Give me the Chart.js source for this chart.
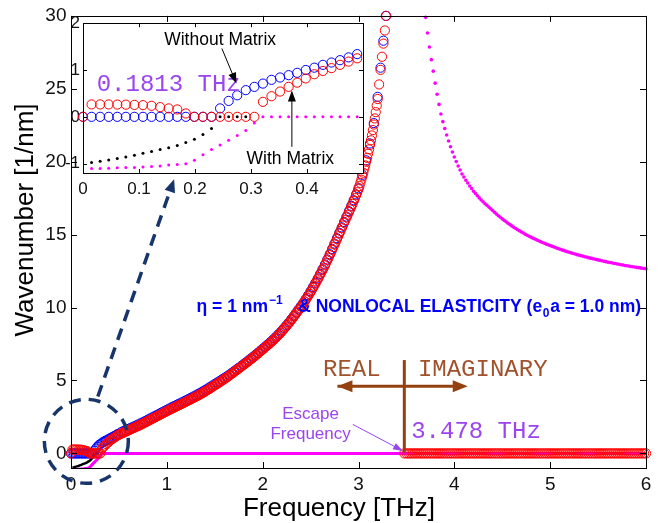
<!DOCTYPE html>
<html>
<head>
<meta charset="utf-8">
<script src="https://cdn.jsdelivr.net/npm/chart.js@4.4.1/dist/chart.umd.min.js"></script>
<style>
  html, body { margin: 0; padding: 0; background: #fff; }
  #wrap { position: relative; width: 658px; height: 523px; }
  #mainChart { position: absolute; left: 0; top: 0; }
  #insetChart { position: absolute; left: 50px; top: 10px; }
</style>
</head>
<body>
<div id="wrap">
  <canvas id="mainChart" width="658" height="523"></canvas>
  <canvas id="insetChart" width="320" height="190"></canvas>
</div>
<script>
// =====================
// Tick values
// =====================
const mainFreqTicks = [0, 1, 2, 3, 4, 5, 6];
const mainWaveTicks = [0, 5, 10, 15, 20, 25, 30];
const insetFreqTicks = [0, 0.1, 0.2, 0.3, 0.4];
const insetWaveTicks = [-1, 0, 1, 2];

// =====================
// Low frequency samples (seen in the inset)
// =====================
const lowFreq = [0, 0.0153, 0.0306, 0.0459, 0.0612, 0.0765, 0.0918, 0.1071, 0.1224, 0.1377, 0.153,
  0.1683, 0.1836, 0.1989, 0.2142, 0.2295, 0.2448, 0.2601, 0.2754, 0.2907, 0.306, 0.3213, 0.3366,
  0.3519, 0.3672, 0.3825, 0.3978, 0.4131, 0.4284, 0.4437, 0.459, 0.4743, 0.4896];
const withMatrixLow = [0, 0.265, 0.265, 0.265, 0.262, 0.26, 0.255, 0.25, 0.236, 0.207, 0.18,
  0.158, 0.072, 0, 0, 0, 0, 0, 0, 0, 0, 0.32, 0.44,
  0.54, 0.64, 0.73, 0.82, 0.91, 0.98, 1.04, 1.11, 1.18, 1.25];
const withoutMatrixLow = [0, 0, 0, 0, 0, 0, 0, 0, 0, 0, 0,
  0, 0, 0, 0, 0, 0.18, 0.34, 0.46, 0.57, 0.64, 0.71, 0.79,
  0.84, 0.89, 0.94, 1.0, 1.05, 1.11, 1.16, 1.21, 1.27, 1.34];

const blackFreq = [0.0153, 0.0306, 0.0459, 0.0612, 0.0765, 0.0918, 0.1071, 0.1224, 0.1377, 0.153,
  0.1683, 0.1836, 0.1989, 0.2142, 0.2295, 0.2448, 0.2601, 0.2754, 0.2907];
const blackWave = [-0.976, -0.95, -0.92, -0.89, -0.86, -0.82, -0.78, -0.74, -0.70, -0.66,
  -0.61, -0.55, -0.48, -0.38, -0.25, 0, 0, 0, 0];

const magentaFreq = [0.0153, 0.0306, 0.0459, 0.0612, 0.0765, 0.0918, 0.1071, 0.1224, 0.1377, 0.153,
  0.1683, 0.1836, 0.1989, 0.2142, 0.2295, 0.2448, 0.2601, 0.2754, 0.2907, 0.306, 0.3213, 0.3366,
  0.3519, 0.3672, 0.3825, 0.3978, 0.4131, 0.4284, 0.4437, 0.459, 0.4743, 0.4896, 3.478, 6.0];
const magentaWave = [-1.105, -1.105, -1.10, -1.09, -1.08, -1.08, -1.07, -1.06, -1.05, -1.03,
  -1.02, -1.0, -0.93, -0.81, -0.70, -0.60, -0.50, -0.40, -0.29, -0.13, 0, 0,
  0, 0, 0, 0, 0, 0, 0, 0, 0, 0, 0, 0];

// =====================
// Main branch (real part), with matrix
// =====================
const withMatrixFreq = [
  0.5, 0.5125, 0.525, 0.5375, 0.55, 0.5625, 0.575, 0.5875, 0.6, 0.6125, 0.625, 0.6375, 0.65, 0.6625, 0.675, 0.6875, 0.7, 0.7125, 0.725, 0.7375,
  0.75, 0.7625, 0.775, 0.7875, 0.8, 0.8125, 0.825, 0.8375, 0.85, 0.8625, 0.875, 0.8875, 0.9, 0.9125, 0.925, 0.9375, 0.95, 0.9625, 0.975, 0.9875,
  1.0, 1.0125, 1.025, 1.0375, 1.05, 1.0625, 1.075, 1.0875, 1.1, 1.1125, 1.125, 1.1375, 1.15, 1.1625, 1.175, 1.1875, 1.2, 1.2125, 1.225, 1.2375,
  1.25, 1.2625, 1.275, 1.2875, 1.3, 1.3125, 1.325, 1.3375, 1.35, 1.3625, 1.375, 1.3875, 1.4, 1.4125, 1.425, 1.4375, 1.45, 1.4625, 1.475, 1.4875,
  1.5, 1.5125, 1.525, 1.5375, 1.55, 1.5625, 1.575, 1.5875, 1.6, 1.6125, 1.625, 1.6375, 1.65, 1.6625, 1.675, 1.6875, 1.7, 1.7125, 1.725, 1.7375,
  1.75, 1.7625, 1.775, 1.7875, 1.8, 1.8125, 1.825, 1.8375, 1.85, 1.8625, 1.875, 1.8875, 1.9, 1.9125, 1.925, 1.9375, 1.95, 1.9625, 1.975, 1.9875,
  2.0, 2.0125, 2.025, 2.0375, 2.05, 2.0625, 2.075, 2.0875, 2.1, 2.1125, 2.125, 2.1375, 2.15, 2.1625, 2.175, 2.1875, 2.2, 2.2125, 2.225, 2.2375,
  2.25, 2.2625, 2.275, 2.2875, 2.3, 2.3125, 2.325, 2.3375, 2.35, 2.3625, 2.375, 2.3875, 2.4, 2.4125, 2.425, 2.4375, 2.45, 2.4625, 2.475, 2.4875,
  2.5, 2.5125, 2.525, 2.5375, 2.55, 2.5625, 2.575, 2.5875, 2.6, 2.6125, 2.625, 2.6375, 2.65, 2.6625, 2.675, 2.6875, 2.7, 2.7125, 2.725, 2.7375,
  2.75, 2.7625, 2.775, 2.7875, 2.8, 2.8125, 2.825, 2.8375, 2.85, 2.8625, 2.875, 2.8875, 2.9, 2.9125, 2.925, 2.9375, 2.95, 2.9625, 2.975, 2.9875,
  3.0, 3.01, 3.02, 3.03, 3.04, 3.05, 3.06, 3.07, 3.08, 3.09, 3.1, 3.11, 3.12, 3.13, 3.14, 3.15, 3.16, 3.17, 3.18, 3.19, 3.2,
  3.215, 3.23, 3.245, 3.26, 3.275, 3.29];
const withMatrixWave = [
  1.28, 1.32, 1.36, 1.395, 1.43, 1.47, 1.51, 1.545, 1.58, 1.62, 1.66, 1.695, 1.73, 1.77, 1.81, 1.845, 1.88, 1.92, 1.96, 2.0,
  2.04, 2.085, 2.13, 2.17, 2.21, 2.255, 2.30, 2.34, 2.38, 2.425, 2.47, 2.51, 2.55, 2.595, 2.64, 2.68, 2.72, 2.765, 2.81, 2.855,
  2.90, 2.94, 2.98, 3.02, 3.06, 3.10, 3.14, 3.18, 3.22, 3.26, 3.30, 3.34, 3.38, 3.42, 3.46, 3.505, 3.55, 3.59, 3.63, 3.67,
  3.71, 3.755, 3.80, 3.84, 3.88, 3.925, 3.97, 4.015, 4.06, 4.105, 4.15, 4.20, 4.25, 4.30, 4.35, 4.40, 4.45, 4.505, 4.56, 4.615,
  4.67, 4.72, 4.77, 4.825, 4.88, 4.935, 4.99, 5.045, 5.10, 5.155, 5.21, 5.27, 5.33, 5.39, 5.45, 5.51, 5.57, 5.635, 5.70, 5.76,
  5.82, 5.88, 5.94, 6.005, 6.07, 6.13, 6.19, 6.255, 6.32, 6.385, 6.45, 6.515, 6.58, 6.645, 6.71, 6.78, 6.85, 6.92, 6.99, 7.06,
  7.13, 7.20, 7.27, 7.34, 7.41, 7.48, 7.55, 7.625, 7.70, 7.78, 7.86, 7.94, 8.02, 8.105, 8.19, 8.28, 8.37, 8.465, 8.56, 8.655,
  8.75, 8.85, 8.95, 9.055, 9.16, 9.27, 9.38, 9.49, 9.60, 9.715, 9.83, 9.945, 10.06, 10.175, 10.29, 10.415, 10.54, 10.67, 10.80, 10.935,
  11.07, 11.21, 11.35, 11.495, 11.64, 11.79, 11.94, 12.095, 12.25, 12.41, 12.57, 12.735, 12.90, 13.07, 13.24, 13.42, 13.60, 13.78, 13.96, 14.145,
  14.33, 14.515, 14.70, 14.885, 15.07, 15.255, 15.44, 15.625, 15.81, 15.995, 16.18, 16.365, 16.55, 16.735, 16.92, 17.11, 17.30, 17.50, 17.70, 17.91,
  18.12, 18.33, 18.55, 18.77, 19.0, 19.25, 19.5, 19.75, 20.0, 20.27, 20.55, 20.85, 21.15, 21.47, 21.8, 22.17, 22.55, 22.97, 23.4, 23.85, 24.3,
  25.3, 26.3, 27.2, 28.1, 29.0, 30.0];

// =====================
// Main branch (real part), without matrix
// =====================
const withoutMatrixFreq = [
  0.525, 0.55, 0.575, 0.6, 0.625, 0.65, 0.675, 0.7, 0.725, 0.75, 0.775, 0.8, 0.825, 0.85, 0.875, 0.9, 0.925, 0.95, 0.975, 1.0,
  1.025, 1.05, 1.075, 1.1, 1.125, 1.15, 1.175, 1.2, 1.225, 1.25, 1.275, 1.3, 1.325, 1.35, 1.375, 1.4, 1.425, 1.45, 1.475, 1.5,
  1.525, 1.55, 1.575, 1.6, 1.625, 1.65, 1.675, 1.7, 1.725, 1.75, 1.775, 1.8, 1.825, 1.85, 1.875, 1.9, 1.925, 1.95, 1.975, 2.0,
  2.025, 2.05, 2.075, 2.1, 2.125, 2.15, 2.175, 2.2, 2.225, 2.25, 2.275, 2.3, 2.325, 2.35, 2.375, 2.4, 2.425, 2.45, 2.475, 2.5,
  2.525, 2.55, 2.575, 2.6, 2.625, 2.65, 2.675, 2.7, 2.725, 2.75, 2.775, 2.8, 2.825, 2.85, 2.875, 2.9, 2.925, 2.95, 2.975, 3.0,
  3.04, 3.08, 3.12, 3.16, 3.2, 3.23, 3.26, 3.285];
const withoutMatrixWave = [
  1.47, 1.54, 1.61, 1.68, 1.755, 1.83, 1.905, 1.98, 2.06, 2.14, 2.225, 2.31, 2.395, 2.48, 2.565, 2.65, 2.735, 2.82, 2.905, 2.99,
  3.075, 3.16, 3.24, 3.32, 3.40, 3.48, 3.56, 3.64, 3.725, 3.81, 3.895, 3.98, 4.07, 4.16, 4.255, 4.35, 4.45, 4.55, 4.655, 4.76,
  4.86, 4.96, 5.07, 5.17, 5.28, 5.39, 5.51, 5.63, 5.75, 5.87, 5.99, 6.12, 6.24, 6.37, 6.50, 6.63, 6.76, 6.90, 7.04, 7.18,
  7.32, 7.46, 7.60, 7.75, 7.91, 8.07, 8.24, 8.42, 8.61, 8.80, 9.00, 9.21, 9.43, 9.65, 9.88, 10.11, 10.34, 10.59, 10.85, 11.12,
  11.41, 11.70, 12.00, 12.31, 12.63, 12.96, 13.30, 13.66, 14.02, 14.39, 14.76, 15.13, 15.50, 15.87, 16.24, 16.61, 16.98, 17.36, 17.76, 18.18,
  19.1, 20.1, 21.25, 22.65, 24.45, 26.45, 28.3, 30.0];

// =====================
// Above escape frequency (real part is zero)
// =====================
const imagFreq = [3.478,
  3.50, 3.52, 3.54, 3.56, 3.58, 3.60, 3.62, 3.64, 3.66, 3.68,
  3.70, 3.72, 3.74, 3.76, 3.78, 3.80, 3.82, 3.84, 3.86, 3.88,
  3.90, 3.92, 3.94, 3.96, 3.98, 4.00, 4.02, 4.04, 4.06, 4.08,
  4.10, 4.12, 4.14, 4.16, 4.18, 4.20, 4.22, 4.24, 4.26, 4.28,
  4.30, 4.32, 4.34, 4.36, 4.38, 4.40, 4.42, 4.44, 4.46, 4.48,
  4.50, 4.52, 4.54, 4.56, 4.58, 4.60, 4.62, 4.64, 4.66, 4.68,
  4.70, 4.72, 4.74, 4.76, 4.78, 4.80, 4.82, 4.84, 4.86, 4.88,
  4.90, 4.92, 4.94, 4.96, 4.98, 5.00, 5.02, 5.04, 5.06, 5.08,
  5.10, 5.12, 5.14, 5.16, 5.18, 5.20, 5.22, 5.24, 5.26, 5.28,
  5.30, 5.32, 5.34, 5.36, 5.38, 5.40, 5.42, 5.44, 5.46, 5.48,
  5.50, 5.52, 5.54, 5.56, 5.58, 5.60, 5.62, 5.64, 5.66, 5.68,
  5.70, 5.72, 5.74, 5.76, 5.78, 5.80, 5.82, 5.84, 5.86, 5.88,
  5.90, 5.92, 5.94, 5.96, 5.98, 6.00];
const imagWave = [0,
  0, 0, 0, 0, 0, 0, 0, 0, 0, 0,
  0, 0, 0, 0, 0, 0, 0, 0, 0, 0,
  0, 0, 0, 0, 0, 0, 0, 0, 0, 0,
  0, 0, 0, 0, 0, 0, 0, 0, 0, 0,
  0, 0, 0, 0, 0, 0, 0, 0, 0, 0,
  0, 0, 0, 0, 0, 0, 0, 0, 0, 0,
  0, 0, 0, 0, 0, 0, 0, 0, 0, 0,
  0, 0, 0, 0, 0, 0, 0, 0, 0, 0,
  0, 0, 0, 0, 0, 0, 0, 0, 0, 0,
  0, 0, 0, 0, 0, 0, 0, 0, 0, 0,
  0, 0, 0, 0, 0, 0, 0, 0, 0, 0,
  0, 0, 0, 0, 0, 0, 0, 0, 0, 0,
  0, 0, 0, 0, 0, 0];

// magenta branch coming down from the top
const branchFreq = [3.70, 3.72, 3.74, 3.76, 3.78, 3.80, 3.82, 3.84, 3.86, 3.88,
  3.90, 3.92, 3.94, 3.96, 3.98, 4.00, 4.02, 4.04, 4.06, 4.08,
  4.10, 4.12, 4.14, 4.16, 4.18, 4.20, 4.22, 4.24, 4.26, 4.28,
  4.30, 4.32, 4.34, 4.36, 4.38, 4.40, 4.42, 4.44, 4.46, 4.48,
  4.50, 4.52, 4.54, 4.56, 4.58, 4.60, 4.62, 4.64, 4.66, 4.68,
  4.70, 4.72, 4.74, 4.76, 4.78, 4.80, 4.82, 4.84, 4.86, 4.88,
  4.90, 4.92, 4.94, 4.96, 4.98, 5.00, 5.02, 5.04, 5.06, 5.08,
  5.10, 5.12, 5.14, 5.16, 5.18, 5.20, 5.22, 5.24, 5.26, 5.28,
  5.30, 5.32, 5.34, 5.36, 5.38, 5.40, 5.42, 5.44, 5.46, 5.48,
  5.50, 5.52, 5.54, 5.56, 5.58, 5.60, 5.62, 5.64, 5.66, 5.68,
  5.70, 5.72, 5.74, 5.76, 5.78, 5.80, 5.82, 5.84, 5.86, 5.88,
  5.90, 5.92, 5.94, 5.96, 5.98, 6.00];
const branchWave = [29.90, 28.83, 27.87, 27.00, 26.21, 25.39, 24.63, 23.93, 23.27, 22.75,
  22.28, 21.83, 21.42, 21.03, 20.67, 20.33, 20.01, 19.71, 19.43, 19.16,
  18.95, 18.73, 18.54, 18.34, 18.16, 17.98, 17.83, 17.67, 17.52, 17.38,
  17.25, 17.12, 17.01, 16.89, 16.77, 16.66, 16.53, 16.41, 16.30, 16.19,
  16.08, 15.98, 15.88, 15.78, 15.69, 15.60, 15.51, 15.42, 15.34, 15.26,
  15.18, 15.11, 15.03, 14.96, 14.89, 14.83, 14.76, 14.70, 14.64, 14.58,
  14.52, 14.46, 14.41, 14.35, 14.30, 14.25, 14.20, 14.15, 14.10, 14.05,
  14.01, 13.96, 13.92, 13.87, 13.83, 13.79, 13.75, 13.71, 13.67, 13.63,
  13.60, 13.56, 13.53, 13.49, 13.46, 13.42, 13.39, 13.36, 13.33, 13.30,
  13.27, 13.24, 13.21, 13.18, 13.15, 13.12, 13.09, 13.07, 13.04, 13.02,
  12.99, 12.97, 12.94, 12.92, 12.89, 12.87, 12.85, 12.82, 12.80, 12.78,
  12.76, 12.74, 12.72, 12.70, 12.68, 12.66];

// =====================
// Helpers
// =====================
const SANS = '"Liberation Sans", Arial, sans-serif';
const MONO = '"Liberation Mono", "Courier New", monospace';
const RED = '#ff0000', BLUE = '#0000ff', MAGENTA = '#ff00ff';
const NAVY = '#17356b', BROWN = '#a0522d', BROWN_DARK = '#95400f', PURPLE = '#9a45ee';

Chart.defaults.font.family = SANS;

function pts(xs, ys) {
  return xs.map((x, i) => ({ x, y: ys[i] }));
}

function rings(data, color, order) {
  return { data, showLine: false, pointStyle: 'circle', pointRadius: 4.6, pointBorderWidth: 1,
    pointBorderColor: color, pointBackgroundColor: 'rgba(0,0,0,0)', borderColor: color,
    backgroundColor: 'rgba(0,0,0,0)', clip: 8, order };
}

function dots(data, color, r, order) {
  return { data, showLine: false, pointRadius: r, pointBorderWidth: 0, pointBorderColor: color,
    pointBackgroundColor: color, backgroundColor: color, clip: 3, order };
}

function line(data, color, w, order) {
  return { data, showLine: true, pointRadius: 0, borderColor: color, borderWidth: w, clip: 0, order };
}

function drawFrame(ctx, a, xs, ys, len) {
  ctx.save();
  ctx.strokeStyle = '#000';
  ctx.lineWidth = 1;
  ctx.strokeRect(Math.round(a.left) + 0.5, Math.round(a.top) + 0.5,
    Math.round(a.right - a.left), Math.round(a.bottom - a.top));
  ctx.beginPath();
  xs.ticks.forEach(t => {
    const px = Math.round(xs.getPixelForValue(t.value)) + 0.5;
    ctx.moveTo(px, a.bottom); ctx.lineTo(px, a.bottom - len);
    ctx.moveTo(px, a.top); ctx.lineTo(px, a.top + len);
  });
  ys.ticks.forEach(t => {
    const py = Math.round(ys.getPixelForValue(t.value)) + 0.5;
    ctx.moveTo(a.left, py); ctx.lineTo(a.left + len, py);
    ctx.moveTo(a.right, py); ctx.lineTo(a.right - len, py);
  });
  ctx.stroke();
  ctx.restore();
}

function arrowHead(ctx, x0, y0, x1, y1, len, wid, color) {
  const ang = Math.atan2(y1 - y0, x1 - x0);
  ctx.save();
  ctx.fillStyle = color;
  ctx.translate(x1, y1);
  ctx.rotate(ang);
  ctx.beginPath();
  ctx.moveTo(0, 0);
  ctx.lineTo(-len, wid / 2);
  ctx.lineTo(-len, -wid / 2);
  ctx.closePath();
  ctx.fill();
  ctx.restore();
}

function arrow(ctx, x0, y0, x1, y1, o) {
  const ang = Math.atan2(y1 - y0, x1 - x0);
  const ex = x1 - Math.cos(ang) * o.len * 0.8, ey = y1 - Math.sin(ang) * o.len * 0.8;
  ctx.save();
  ctx.strokeStyle = o.color;
  ctx.lineWidth = o.width;
  if (o.dash) ctx.setLineDash(o.dash);
  ctx.beginPath();
  ctx.moveTo(x0, y0);
  ctx.lineTo(ex, ey);
  ctx.stroke();
  ctx.restore();
  arrowHead(ctx, x0, y0, x1, y1, o.len, o.wid, o.color);
  if (o.both) arrowHead(ctx, x1, y1, x0, y0, o.len, o.wid, o.color);
}

function text(ctx, str, x, y, font, color, align) {
  ctx.save();
  ctx.font = font;
  ctx.fillStyle = color;
  ctx.textAlign = align || 'left';
  ctx.textBaseline = 'alphabetic';
  ctx.fillText(str, x, y);
  ctx.restore();
}

// =====================
// Main chart decorations
// =====================
const mainDecor = {
  id: 'mainDecor',
  afterDraw(chart) {
    const { ctx, chartArea: a, scales: { x, y } } = chart;
    const X = v => x.getPixelForValue(v), Y = v => y.getPixelForValue(v);
    drawFrame(ctx, a, x, y, 6);

    // axis titles
    text(ctx, 'Frequency [THz]', 339, 516, '26px ' + SANS, '#000', 'center');
    ctx.save();
    ctx.translate(33, 220);
    ctx.rotate(-Math.PI / 2);
    text(ctx, 'Wavenumber [1/nm]', 0, 0, '26px ' + SANS, '#000', 'center');
    ctx.restore();

    // dashed zoom circle + arrow to the inset
    ctx.save();
    ctx.strokeStyle = NAVY;
    ctx.lineWidth = 3.5;
    ctx.setLineDash([12, 8]);
    ctx.beginPath();
    ctx.arc(X(0.16), Y(0.83), 42, 0, Math.PI * 2);
    ctx.stroke();
    ctx.restore();
    arrow(ctx, X(0.28), Y(3.9), X(1.076), Y(18.8), { color: NAVY, width: 3.5, dash: [12, 8], len: 13, wid: 11 });

    // parameter text
    const blueBold = 'bold 17.5px ' + SANS;
    let bx = X(1.31);
    const by = Y(9.7);
    text(ctx, 'η = 1 nm', bx, by, blueBold, BLUE);
    ctx.font = blueBold;
    bx += ctx.measureText('η = 1 nm').width + 1;
    text(ctx, '−1', bx, by - 8, 'bold 12px ' + SANS, BLUE);
    let cx = X(2.37);
    text(ctx, '& NONLOCAL ELASTICITY (e', cx, by, blueBold, BLUE);
    ctx.font = blueBold;
    cx += ctx.measureText('& NONLOCAL ELASTICITY (e').width;
    text(ctx, '0', cx + 0.5, by + 5, 'bold 12px ' + SANS, BLUE);
    text(ctx, 'a = 1.0 nm)', cx + 8, by, blueBold, BLUE);

    // real / imaginary marker
    ctx.save();
    ctx.strokeStyle = BROWN_DARK;
    ctx.lineWidth = 3;
    ctx.beginPath();
    ctx.moveTo(X(3.478), Y(6.4));
    ctx.lineTo(X(3.478), Y(0.05));
    ctx.stroke();
    ctx.restore();
    arrow(ctx, X(2.78), Y(4.6), X(4.14), Y(4.6), { color: BROWN_DARK, width: 3, len: 15, wid: 12, both: true });
    text(ctx, 'REAL', X(2.63), Y(5.3), '24px ' + MONO, BROWN);
    text(ctx, 'IMAGINARY', X(3.62), Y(5.3), '24px ' + MONO, BROWN);
    text(ctx, '3.478 THz', X(3.55), Y(1.08), '24px ' + MONO, PURPLE);

    // escape frequency
    text(ctx, 'Escape', X(2.5), Y(2.33), '17px ' + SANS, PURPLE, 'center');
    text(ctx, 'Frequency', X(2.5), Y(0.97), '17px ' + SANS, PURPLE, 'center');
    arrow(ctx, X(2.94), Y(1.99), X(3.465), Y(0.17), { color: PURPLE, width: 1, len: 10, wid: 7 });
  }
};

// =====================
// Inset decorations
// =====================
const insetDecor = {
  id: 'insetDecor',
  beforeDraw(chart) {
    const { ctx, chartArea: a } = chart;
    ctx.save();
    ctx.fillStyle = '#fff';
    ctx.fillRect(a.left, a.top, a.right - a.left, a.bottom - a.top);
    ctx.restore();
  },
  afterDraw(chart) {
    const { ctx, chartArea: a, scales: { x, y } } = chart;
    const X = v => x.getPixelForValue(v), Y = v => y.getPixelForValue(v);
    drawFrame(ctx, a, x, y, 4);
    text(ctx, '0.1813 THz', X(0.0245), Y(0.56), '24px ' + MONO, PURPLE);
    text(ctx, 'Without Matrix', X(0.145), Y(1.54), '17.5px ' + SANS, '#000');
    arrow(ctx, X(0.248), Y(1.46), X(0.274), Y(0.71), { color: '#000', width: 1, len: 11, wid: 8 });
    text(ctx, 'With Matrix', X(0.292), Y(-1.01), '17.5px ' + SANS, '#000');
    arrow(ctx, X(0.373), Y(-0.64), X(0.373), Y(0.56), { color: '#000', width: 1, len: 11, wid: 8 });
  }
};

// =====================
// Datasets
// =====================
const redAll = pts(lowFreq.concat(withMatrixFreq), withMatrixLow.concat(withMatrixWave));
const blueAll = pts(lowFreq.concat(withoutMatrixFreq), withoutMatrixLow.concat(withoutMatrixWave));
const redImag = pts(imagFreq, imagWave);
const blackPts = pts(blackFreq, blackWave);
const magentaPts = pts(magentaFreq, magentaWave);
const branchPts = pts(branchFreq, branchWave);

function axis(min, max, ticks, size, pad, font, isY) {
  return {
    type: 'linear', min, max,
    grid: { display: false, drawTicks: false },
    border: { display: false },
    afterBuildTicks: s => { s.ticks = ticks.map(v => ({ value: v })); },
    afterFit: s => { if (isY) s.width = size; else s.height = size; },
    ticks: { color: '#111', font: { size: font }, padding: pad, autoSkip: false, maxRotation: 0,
      callback: v => String(v) }
  };
}

const baseOptions = {
  responsive: false,
  animation: false,
  events: [],
  plugins: { legend: { display: false }, tooltip: { enabled: false } }
};

new Chart(document.getElementById('mainChart'), {
  type: 'scatter',
  data: {
    datasets: [
      rings(redAll, RED, 1),
      rings(redImag, RED, 1),
      rings(blueAll, BLUE, 2),
      line(magentaPts, MAGENTA, 3, 3),
      line(blackPts, '#000', 2.5, 4),
      dots(branchPts, MAGENTA, 1.8, 3)
    ]
  },
  options: Object.assign({}, baseOptions, {
    layout: { padding: { top: 13, right: 12, left: 0, bottom: 0 } },
    scales: {
      x: axis(0, 6, mainFreqTicks, 55, 5, 19, false),
      y: axis(-1, 30, mainWaveTicks, 71, 4.5, 19, true)
    }
  }),
  plugins: [mainDecor]
});

const inInset = p => p.x < 0.5;

new Chart(document.getElementById('insetChart'), {
  type: 'scatter',
  data: {
    datasets: [
      dots(blackPts.filter(inInset), '#000', 1.5, 0),
      dots(magentaPts.filter(inInset), MAGENTA, 1.5, 0),
      rings(redAll.filter(inInset), RED, 1),
      rings(blueAll.filter(inInset), BLUE, 2)
    ]
  },
  options: Object.assign({}, baseOptions, {
    layout: { padding: { top: 13, right: 7, left: 0, bottom: 0 } },
    scales: {
      x: axis(0, 0.5, insetFreqTicks, 27, 6, 17, false),
      y: axis(-1.2, 2, insetWaveTicks, 33, 3, 17, true)
    }
  }),
  plugins: [insetDecor]
});
</script>
</body>
</html>
